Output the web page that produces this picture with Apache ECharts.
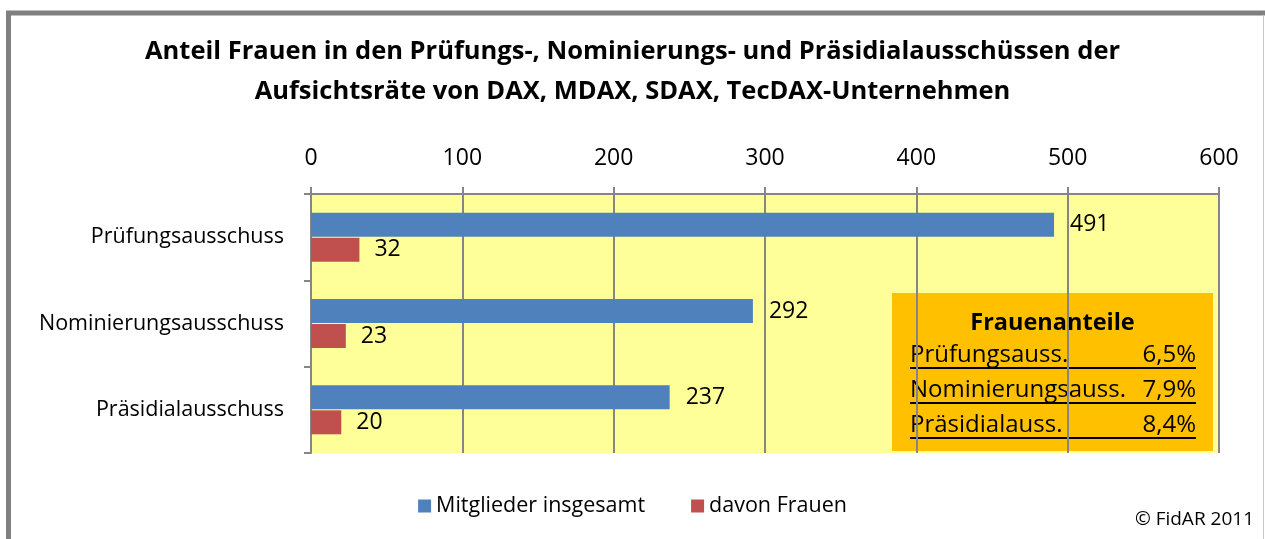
<!DOCTYPE html>
<html>
<head>
<meta charset="utf-8">
<script src="https://cdn.jsdelivr.net/npm/echarts@6/dist/echarts.min.js"></script>
<style>
  html, body { margin: 0; padding: 0; background: #fff; }
  #chart { width: 1265px; height: 539px; }
</style>
</head>
<body>
<div id="chart"></div>
<script>
// Daten
const categories = ['Prüfungsausschuss', 'Nominierungsausschuss', 'Präsidialausschuss'];
const shortNames = ['Prüfungsauss.', 'Nominierungsauss.', 'Präsidialauss.'];
const members = [491, 292, 237];
const women = [32, 23, 20];
const xTicks = [0, 100, 200, 300, 400, 500, 600];

const FONT = '"Open Sans", "Noto Sans", sans-serif';
const GRAY = '#868686';

// Frauenanteile aus den Werten berechnen
const shares = women.map((w, i) => (w / members[i] * 100).toFixed(1).replace('.', ',') + '%');

const chart = echarts.init(document.getElementById('chart'));

// Textbox "Frauenanteile"
const boxX = 892, boxY = 293, boxW = 321, boxH = 158;
const boxItems = [
  { type: 'rect', shape: { x: boxX, y: boxY, width: boxW, height: boxH }, style: { fill: '#FFC000' } },
  { type: 'text', x: boxX + boxW / 2, y: 323, style: { text: 'Frauenanteile', font: 'bold 23.5px ' + FONT, fill: '#000', textAlign: 'center', textVerticalAlign: 'middle' } }
];
shortNames.forEach((name, i) => {
  const cy = 355 + i * 35;
  boxItems.push({ type: 'text', x: 910, y: cy, style: { text: name, font: '24px ' + FONT, fill: '#000', textAlign: 'left', textVerticalAlign: 'middle' } });
  boxItems.push({ type: 'text', x: 1196, y: cy, style: { text: shares[i], font: '24px ' + FONT, fill: '#000', textAlign: 'right', textVerticalAlign: 'middle' } });
  boxItems.push({ type: 'line', shape: { x1: 910, y1: cy + 13, x2: 1196, y2: cy + 13 }, style: { stroke: '#000', lineWidth: 2 } });
});

const option = {
  animation: false,
  title: {
    text: 'Anteil Frauen in den Prüfungs-, Nominierungs- und Präsidialausschüssen der\nAufsichtsräte von DAX, MDAX, SDAX, TecDAX-Unternehmen',
    left: 'center',
    top: 27,
    textStyle: { fontFamily: FONT, fontWeight: 'bold', fontSize: 25.5, lineHeight: 40, color: '#000' }
  },
  legend: {
    bottom: 17,
    left: 'center',
    itemWidth: 13,
    itemHeight: 13,
    itemGap: 46,
    icon: 'rect',
    textStyle: { fontFamily: FONT, fontSize: 21.5, color: '#000' },
    data: ['Mitglieder insgesamt', 'davon Frauen']
  },
  grid: {
    left: 311, right: 46, top: 194, bottom: 86,
    show: true, backgroundColor: '#FFFF99', borderWidth: 0
  },
  xAxis: {
    type: 'value',
    position: 'top',
    min: xTicks[0],
    max: xTicks[xTicks.length - 1],
    interval: 100,
    axisLine: { show: true, lineStyle: { color: GRAY, width: 2 } },
    axisTick: { show: true, length: 7, lineStyle: { color: GRAY, width: 2 } },
    splitLine: { show: true, lineStyle: { color: GRAY, width: 2 } },
    axisLabel: { margin: 24, fontFamily: FONT, fontSize: 23, color: '#000' }
  },
  yAxis: {
    type: 'category',
    inverse: true,
    data: categories,
    axisLine: { show: true, lineStyle: { color: GRAY, width: 2 } },
    axisTick: { show: true, length: 7, lineStyle: { color: GRAY, width: 2 } },
    axisLabel: { margin: 27, fontFamily: FONT, fontSize: 21.5, color: '#000' }
  },
  series: [
    {
      name: 'Mitglieder insgesamt',
      type: 'bar',
      data: members,
      barWidth: 24,
      barGap: '4%',
      itemStyle: { color: '#4F81BD' },
      label: { show: true, position: 'right', distance: 16, fontFamily: FONT, fontSize: 23, color: '#000' }
    },
    {
      name: 'davon Frauen',
      type: 'bar',
      data: women,
      barWidth: 24,
      itemStyle: { color: '#C0504D' },
      label: { show: true, position: 'right', distance: 15, fontFamily: FONT, fontSize: 23, color: '#000' }
    }
  ],
  graphic: [
    // Rahmen
    { type: 'line', shape: { x1: 8.5, y1: 13, x2: 8.5, y2: 539 }, style: { stroke: '#808080', lineWidth: 5 } },
    { type: 'line', shape: { x1: 6, y1: 13, x2: 1265, y2: 13 }, style: { stroke: '#808080', lineWidth: 5 } },
    { type: 'line', shape: { x1: 1263.5, y1: 15, x2: 1263.5, y2: 539 }, style: { stroke: '#c8c8c8', lineWidth: 1 } },
    { type: 'text', right: 11, top: 510, style: { text: '© FidAR 2011', font: '19px ' + FONT, fill: '#000' } },
    { type: 'group', children: boxItems }
  ]
};

chart.setOption(option);
</script>
</body>
</html>
